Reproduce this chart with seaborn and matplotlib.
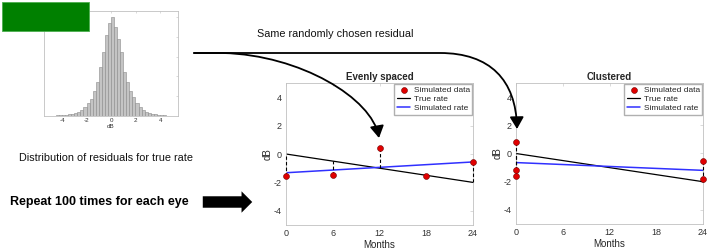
import numpy as np
import pandas as pd
import matplotlib
matplotlib.use("Agg")
import matplotlib.pyplot as plt
from matplotlib.patches import Rectangle, FancyArrowPatch
from matplotlib.path import Path
import seaborn as sns

# residual distribution (bin centres in dB, relative counts)
bin_centres = [-4.9, -4.65, -4.4, -4.15, -3.9, -3.65, -3.4, -3.15, -2.9, -2.65,
               -2.4, -2.15, -1.9, -1.65, -1.4, -1.15, -0.9, -0.65, -0.4, -0.15,
               0.1, 0.35, 0.6, 0.85, 1.1, 1.35, 1.6, 1.85, 2.1, 2.35,
               2.6, 2.85, 3.1, 3.35, 3.6, 3.85, 4.1, 4.35, 4.6, 4.85, 5.1]
bin_counts = [3, 4, 6, 8, 10, 13, 17, 23, 32, 45,
              65, 95, 130, 175, 250, 340, 490, 650, 820, 940,
              1000, 900, 780, 650, 440, 340, 250, 190, 130, 90,
              63, 43, 30, 22, 16, 12, 9, 7, 5, 4, 3]

# true rate line
true_months = [0, 24]
true_db = [0, -2]

# evenly spaced visits
even_months = [0, 6, 12, 18, 24]
even_db = [-1.55, -1.45, 0.4, -1.55, -0.55]

# clustered visits
clus_months = [0, 0, 0, 24, 24]
clus_db = [0.85, -1.2, -1.58, -0.56, -1.83]

sns.set_theme(style="white")
plt.rcParams['font.family'] = ['Liberation Sans', 'DejaVu Sans']
plt.rcParams['axes.edgecolor'] = '#c0c0c0'
plt.rcParams['axes.linewidth'] = 0.6
plt.rcParams['axes.unicode_minus'] = False

W, H = 708, 249
fig = plt.figure(figsize=(W / 100, H / 100), dpi=100)


def fp(x, y):
    # pixel (from top-left) -> figure fraction
    return (x / W, 1 - y / H)


def ax_at(left, top, right, bottom):
    return fig.add_axes([left / W, 1 - bottom / H, (right - left) / W, (bottom - top) / H])


# --- histogram of residuals
hax = ax_at(44, 11, 178, 116)
resid = pd.DataFrame({'dB': bin_centres, 'n': bin_counts})
edges = [c - 0.125 for c in bin_centres] + [bin_centres[-1] + 0.125]
sns.histplot(data=resid, x='dB', weights='n', bins=edges, ax=hax,
             color='#c4c4c4', edgecolor='#8a8a8a', linewidth=0.4, alpha=1)
hax.set_xlim(-5.5, 5.45)
hax.set_ylim(0, 1060)
hax.set_xticks([-4, -2, 0, 2, 4])
hax.set_yticks([200, 400, 600, 800, 1000])
hax.set_yticklabels([])
hax.tick_params(axis='both', direction='in', length=1.5, width=0.4, labelsize=4.5,
                pad=1.5, colors='#c0c0c0', labelcolor='#333333', top=True, right=True)
hax.set_xlabel('dB', fontsize=4.5, labelpad=0.5, color='#333333')
hax.set_ylabel('')

fig.patches.append(Rectangle(fp(2, 31), 87 / W, 29 / H, transform=fig.transFigure,
                             facecolor='#008000', edgecolor='#4caf50', linewidth=0.6))


def rate_panel(ax, months, db, title):
    fit = np.polyfit(months, db, 1)
    sim_x = np.array([0, 24])
    sim_y = np.polyval(fit, sim_x)
    base = np.interp(months, true_months, true_db)
    ax.vlines(months, db, base, colors='black', linestyles=(0, (3, 2)), linewidth=0.8,
              clip_on=False, zorder=3)
    sns.lineplot(x=true_months, y=true_db, ax=ax, color='black', linewidth=0.9,
                 label='True rate')
    sns.lineplot(x=sim_x, y=sim_y, ax=ax, color='#3030ff', linewidth=1.1,
                 label='Simulated rate')
    sns.scatterplot(x=months, y=db, ax=ax, color='#e00000', edgecolor='#700000',
                    linewidth=0.4, s=18, zorder=5, label='Simulated data', clip_on=False)
    ax.set_xlim(0, 24)
    ax.set_ylim(-5, 5)
    ax.set_xticks([0, 6, 12, 18, 24])
    ax.set_yticks([-4, -2, 0, 2, 4])
    ax.tick_params(axis='both', direction='in', length=2, width=0.4, labelsize=6.5,
                   pad=3, colors='#c0c0c0', labelcolor='#333333', top=True, right=True)
    ax.set_xlabel('Months', fontsize=7, labelpad=1, color='#262626')
    ax.set_ylabel('dB', fontsize=7, labelpad=1, color='#262626')
    ax.set_title(title, fontsize=7, fontweight='bold', pad=2.5)
    h, l = ax.get_legend_handles_labels()
    order = [l.index('Simulated data'), l.index('True rate'), l.index('Simulated rate')]
    ax.legend([h[i] for i in order], [l[i] for i in order], loc='upper right',
              fontsize=6, frameon=True, fancybox=False, edgecolor='#b0b0b0',
              borderaxespad=0.1, labelspacing=0.15, handlelength=1.6,
              handletextpad=0.4, borderpad=0.3, framealpha=1)


ax1 = ax_at(286, 83, 473, 225)
rate_panel(ax1, even_months, even_db, 'Evenly spaced')
ax2 = ax_at(516, 83, 703, 224)
rate_panel(ax2, clus_months, clus_db, 'Clustered')

# --- text annotations
fig.text(*fp(335, 34), 'Same randomly chosen residual', fontsize=7.8,
         ha='center', va='center', color='#111111')
fig.text(*fp(106, 158), 'Distribution of residuals for true rate', fontsize=7.8,
         ha='center', va='center', color='#111111')
fig.text(*fp(99, 202), 'Repeat 100 times for each eye', fontsize=9,
         fontweight='bold', ha='center', va='center', color='black')

# big block arrow
fig.patches.append(FancyArrowPatch(fp(200, 202), fp(255, 202), transform=fig.transFigure,
                                   arrowstyle='simple,head_length=0.7,head_width=1.4,tail_width=0.75',
                                   mutation_scale=11, color='black', linewidth=0))

# curved arrows
MOVE, LINE, CURVE = Path.MOVETO, Path.LINETO, Path.CURVE4
p1 = [(194, 53), (223, 53), (300, 55), (372, 98), (379, 138)]
c1 = [MOVE, LINE, CURVE, CURVE, CURVE]
p2 = [(194, 53), (440, 53), (490, 53), (516, 80), (517, 129)]
c2 = [MOVE, LINE, CURVE, CURVE, CURVE]
for pts, codes in [(p1, c1), (p2, c2)]:
    path = Path([fp(x, y) for x, y in pts], codes)
    fig.patches.append(FancyArrowPatch(path=path, transform=fig.transFigure,
                                       arrowstyle='-|>,head_length=0.6,head_width=0.35',
                                       mutation_scale=12, color='black',
                                       linewidth=1.3, facecolor='#1b2a44'))

fig.savefig('out.png', dpi=100)
